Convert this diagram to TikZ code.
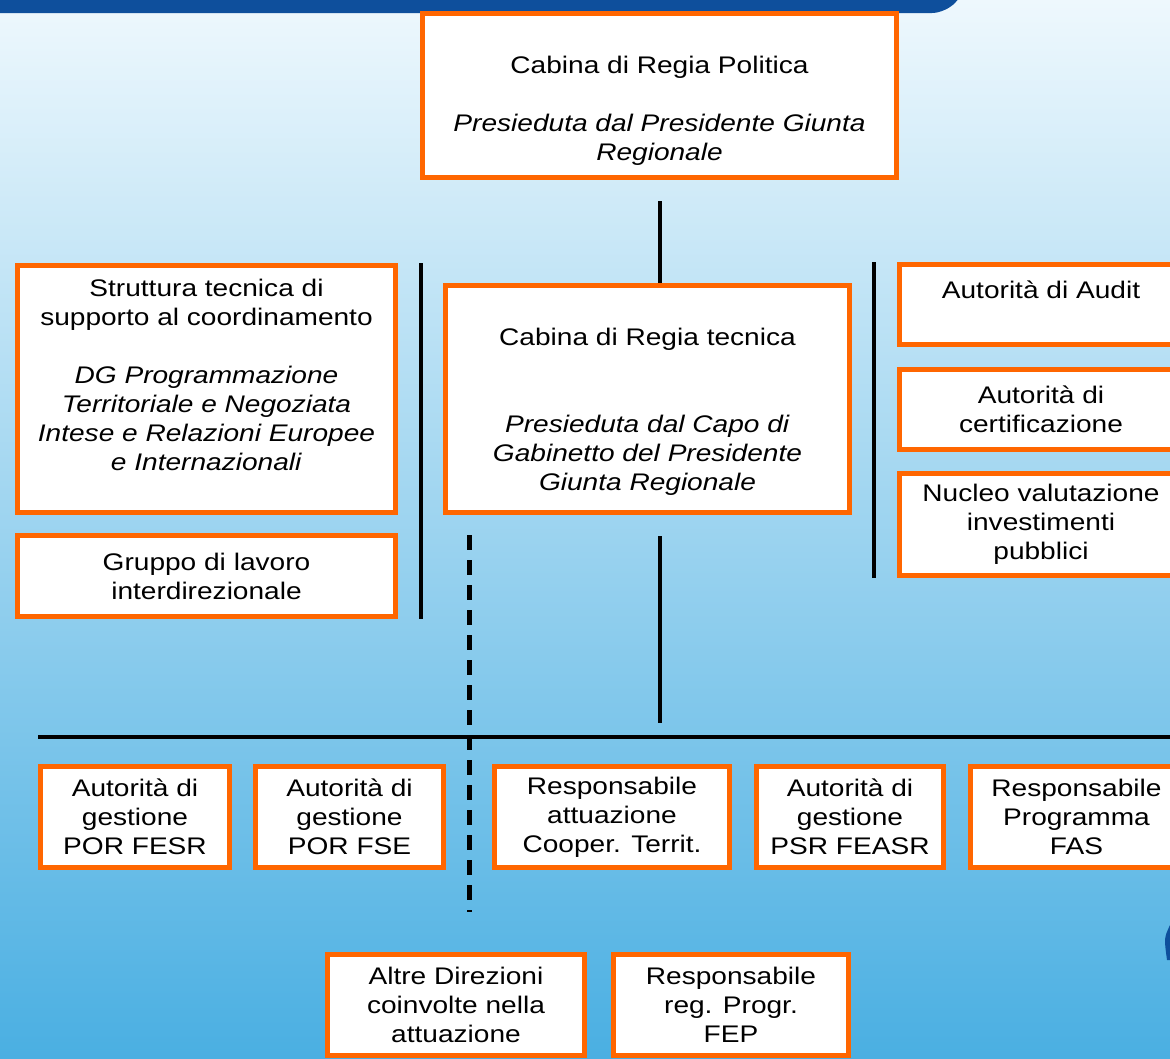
\documentclass[tikz,border=0pt]{standalone}
\usepackage{fontspec}
\setmainfont{Liberation Sans}[FakeStretch=1.17]
\usetikzlibrary{positioning}
\definecolor{bordo}{HTML}{FF6600}
\definecolor{fascia}{HTML}{0E4F9C}
\definecolor{cielo1}{HTML}{EEF8FD}
\definecolor{cielo2}{HTML}{A6D9F3}
\definecolor{cielo3}{HTML}{4AAFE2}
\newcommand{\testo}{\fontsize{24}{29}\selectfont}

\begin{document}
\begin{tikzpicture}[x=1pt,y=-1pt]
	\tikzstyle{ente} = [draw=bordo,line width=5pt,fill=white,align=center,inner sep=0pt,font=\testo];
	\tikzstyle{linea} = [line width=4pt];
	% sfondo e fascia
	\useasboundingbox (0,0) rectangle (1170,1058);
	\shade[top color=cielo1,middle color=cielo2,bottom color=cielo3] (0,0) rectangle (1170,1058);
	\fill[fascia] (0,-5) -- (962,-5) [rounded corners=14pt] -- (946,13) [sharp corners] -- (0,13) -- cycle;
	\fill[fascia] (1170,925) .. controls (1164,938) .. (1167,960) -- (1170,960) -- cycle;
	% vertice
	\node at (659.5,95.5) (pol) [ente,minimum width=474pt,minimum height=164pt] {\mbox{}\\[19pt]Cabina di Regia Politica\\\mbox{}\\\textit{Presieduta dal Presidente Giunta}\\\textit{Regionale}};
	\node at (647.5,399) (tec) [ente,minimum width=404pt,minimum height=227pt] {\mbox{}\\[13pt]Cabina di Regia tecnica\\\mbox{}\\\mbox{}\\\textit{Presieduta dal Capo di}\\\textit{Gabinetto del Presidente}\\\textit{Giunta Regionale}};
	% supporto a sinistra
	\node at (206.5,389) (strut) [ente,minimum width=378pt,minimum height=247pt] {Struttura tecnica di\\supporto al coordinamento\\\mbox{}\\\textit{DG Programmazione}\\\textit{Territoriale e Negoziata}\\\textit{Intese e Relazioni Europee}\\\textit{e Internazionali}\\\mbox{}};
	\node (gruppo) [below=18pt of strut,ente,minimum width=378pt,minimum height=81pt] {Gruppo di lavoro\\interdirezionale};
	% autorita a destra
	\node at (1041,304.5) (audit) [ente,minimum width=283pt,minimum height=80pt] {Autorità di Audit\\\mbox{}};
	\node (cert) [below=20pt of audit,ente,minimum width=283pt,minimum height=80pt] {Autorità di\\certificazione};
	\node (nucleo) [below=19pt of cert,ente,minimum width=283pt,minimum height=102pt] {Nucleo valutazione\\investimenti\\pubblici};
	% programmi
	\node at (135,817) (ag1) [ente,minimum width=189pt,minimum height=101pt] {Autorità di\\gestione\\POR FESR};
	\node (ag2) [right=21pt of ag1,ente,minimum width=188pt,minimum height=101pt] {Autorità di\\gestione\\POR FSE};
	\node (rct) [right=46pt of ag2,ente,minimum width=235pt,minimum height=101pt] {Responsabile\\attuazione\\Cooper. Territ.};
	\node (agpsr) [right=22pt of rct,ente,minimum width=187pt,minimum height=101pt] {Autorità di\\gestione\\PSR FEASR};
	\node (fas) [right=22pt of agpsr,ente,minimum width=212pt,minimum height=101pt] {Responsabile\\Programma\\FAS};
	\node at (456,1005) (altre) [ente,minimum width=257pt,minimum height=101pt] {Altre Direzioni\\coinvolte nella\\attuazione};
	\node (fep) [right=24pt of altre,ente,minimum width=235pt,minimum height=101pt] {Responsabile\\reg. Progr.\\FEP};
	% collegamenti
	\path (strut.north east) ++(23,0) coordinate (sx);
	\path (audit.north west) ++(-23,0) coordinate (dx);
	\path (ag1.north west) ++(0,-27) coordinate (hl);
	\path (pol.south |- tec.south) ++(0,21) coordinate (tv);
	\path (tec.south west) ++(26,20) coordinate (dv);
	\draw[linea,shorten <=21pt] (pol.south) -- (pol.south |- tec.north);
	\draw[linea] (sx) -- (sx |- gruppo.south);
	\draw[linea] (dx) -- (dx |- nucleo.south);
	\draw[linea] (hl) -- (hl -| fas.east);
	\draw[linea,shorten >=14pt] (tv) -- (tv |- hl);
	\draw[line width=5pt,dash pattern=on 15pt off 10pt,shorten >=40pt] (dv) -- (dv |- altre.north);
\end{tikzpicture}
\end{document}
